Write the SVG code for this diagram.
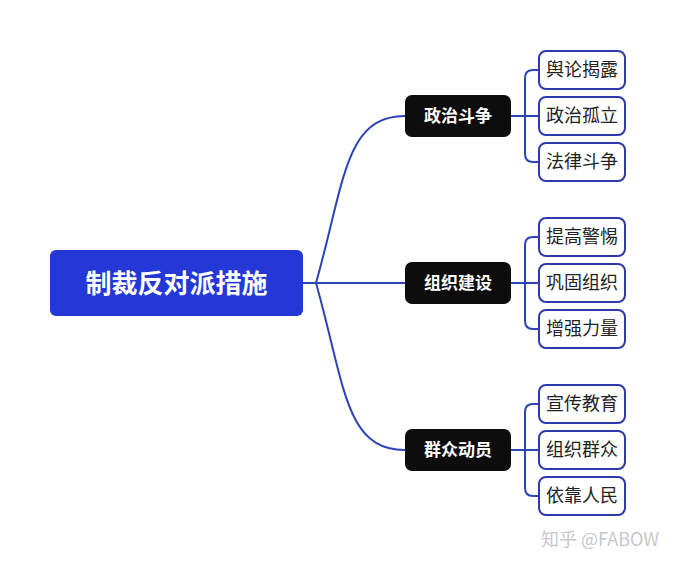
<svg xmlns="http://www.w3.org/2000/svg" width="676" height="566" viewBox="0 0 676 566">
<style>
.c{fill:none;stroke:#2d43b8;stroke-width:2}
.leaf rect{fill:#fff;stroke:#2d3aa8;stroke-width:2}
.leaf text{font-family:"Noto Sans CJK SC",sans-serif;font-size:18px;fill:#222;text-anchor:middle}
.mid rect{fill:#0d0d0d}
.mid text{font-family:"Noto Sans CJK SC",sans-serif;font-size:17px;font-weight:bold;fill:#fff;text-anchor:middle}
</style>
<rect width="676" height="566" fill="#fff"/>
<g id="connectors" class="c">
<path d="M303 283 H316 C345 180 345 116 405 116"/>
<path d="M303 283 H405"/>
<path d="M303 283 H316 C345 386 345 450 405 450"/>
<path d="M511 116 H525 M539 70 H533 Q525 70 525 78 V154 Q525 162 533 162 H539 M525 116 H539"/>
<path d="M511 283 H525 M539 237 H533 Q525 237 525 245 V321 Q525 329 533 329 H539 M525 283 H539"/>
<path d="M511 450 H525 M539 404 H533 Q525 404 525 412 V488 Q525 496 533 496 H539 M525 450 H539"/>
</g>
<g id="root"><rect x="50" y="250" width="253" height="66" rx="6" fill="#2338d6"/><text x="176.5" y="293" font-family="Noto Sans CJK SC,sans-serif" font-size="26" font-weight="bold" fill="#fff" text-anchor="middle">制裁反对派措施</text></g>
<g id="m1" class="mid"><rect x="405" y="95" width="106" height="42" rx="7"/><text x="458" y="122">政治斗争</text></g>
<g id="m2" class="mid"><rect x="405" y="262" width="106" height="42" rx="7"/><text x="458" y="289">组织建设</text></g>
<g id="m3" class="mid"><rect x="405" y="429" width="106" height="42" rx="7"/><text x="458" y="456">群众动员</text></g>
<g id="l1" class="leaf"><rect x="539" y="51" width="86" height="38" rx="7"/><text x="582" y="76">舆论揭露</text></g>
<g id="l2" class="leaf"><rect x="539" y="97" width="86" height="38" rx="7"/><text x="582" y="122">政治孤立</text></g>
<g id="l3" class="leaf"><rect x="539" y="143" width="86" height="38" rx="7"/><text x="582" y="168">法律斗争</text></g>
<g id="l4" class="leaf"><rect x="539" y="218" width="86" height="38" rx="7"/><text x="582" y="243">提高警惕</text></g>
<g id="l5" class="leaf"><rect x="539" y="264" width="86" height="38" rx="7"/><text x="582" y="289">巩固组织</text></g>
<g id="l6" class="leaf"><rect x="539" y="310" width="86" height="38" rx="7"/><text x="582" y="335">增强力量</text></g>
<g id="l7" class="leaf"><rect x="539" y="385" width="86" height="38" rx="7"/><text x="582" y="410">宣传教育</text></g>
<g id="l8" class="leaf"><rect x="539" y="431" width="86" height="38" rx="7"/><text x="582" y="456">组织群众</text></g>
<g id="l9" class="leaf"><rect x="539" y="477" width="86" height="38" rx="7"/><text x="582" y="502">依靠人民</text></g>
<text x="659" y="546" font-family="Noto Sans CJK SC,sans-serif" font-size="18" fill="#c8c8c8" text-anchor="end">知乎 @FABOW</text>
</svg>
